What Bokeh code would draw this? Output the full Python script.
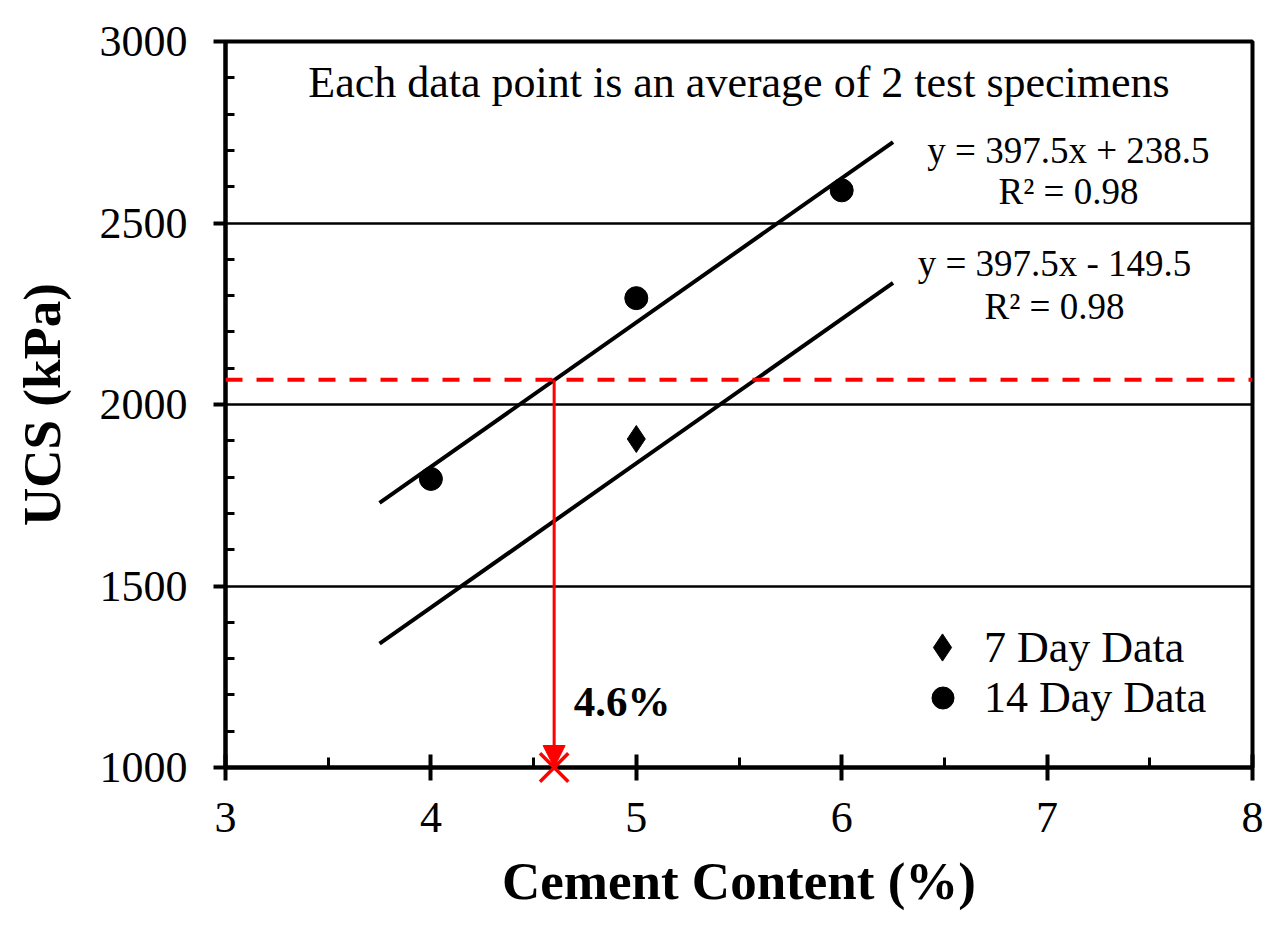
from bokeh.plotting import figure
from bokeh.models import (Span, Arrow, NormalHead, Label, Legend, LegendItem,
                          FixedTicker, Range1d)
from bokeh.embed import file_html
from bokeh.resources import INLINE

# ---------------- data ----------------
cement_14 = [4, 5, 6]
ucs_14 = [1795, 2293, 2590]
cement_7 = [5]
ucs_7 = [1905]
fit_slopes = [397.5, 397.5]
fit_intercepts = [238.5, -149.5]
fit_r2 = [0.98, 0.98]
fit_x_range = [3.75, 6.25]
target_ucs = 2068
design_cement = 4.6
x_ticks = [3, 4, 5, 6, 7, 8]
y_ticks = [1000, 1500, 2000, 2500, 3000]
note_text = "Each data point is an average of 2 test specimens"

FONT = "Liberation Serif"

p = figure(frame_width=1027, frame_height=726,
           min_border_left=225, min_border_right=12,
           min_border_top=41, min_border_bottom=150,
           x_range=Range1d(x_ticks[0], x_ticks[-1]),
           y_range=Range1d(y_ticks[0], y_ticks[-1]),
           output_backend="svg", toolbar_location=None,
           background_fill_color="white", border_fill_color="white")

p.outline_line_color = "black"
p.outline_line_width = 4

# grid
p.xgrid.visible = False
p.ygrid.ticker = FixedTicker(ticks=y_ticks[1:-1])
p.ygrid.grid_line_color = "black"
p.ygrid.grid_line_width = 2.5

# axes
x_minor = [t + 0.5 for t in x_ticks[:-1]]
y_minor = [v for v in range(y_ticks[0], y_ticks[-1] + 1, 100) if v % 500]
p.xaxis.ticker = FixedTicker(ticks=x_ticks, minor_ticks=x_minor)
p.yaxis.ticker = FixedTicker(ticks=y_ticks, minor_ticks=y_minor)

for ax in (p.xaxis[0], p.yaxis[0]):
    ax.axis_line_color = "black"
    ax.axis_line_width = 4
    ax.major_tick_line_color = "black"
    ax.major_tick_line_width = 4
    ax.minor_tick_line_color = "black"
    ax.minor_tick_line_width = 3
    ax.major_label_text_font = FONT
    ax.major_label_text_font_size = "44px"
    ax.major_label_text_color = "black"
    ax.axis_label_text_font = FONT
    ax.axis_label_text_font_size = "53px"
    ax.axis_label_text_font_style = "bold"
    ax.axis_label_text_color = "black"

p.xaxis.axis_label = "Cement Content (%)"
p.xaxis.major_tick_in = 13
p.xaxis.major_tick_out = 13
p.xaxis.minor_tick_in = 10
p.xaxis.minor_tick_out = 0
p.xaxis.major_label_standoff = 22
p.xaxis.axis_label_standoff = 17

p.yaxis.axis_label = "UCS (kPa)"
p.yaxis.major_tick_in = 0
p.yaxis.major_tick_out = 12
p.yaxis.minor_tick_in = 9
p.yaxis.minor_tick_out = 0
p.yaxis.major_label_standoff = 26
p.yaxis.axis_label_standoff = 26

# trend lines
for m, b in zip(fit_slopes, fit_intercepts):
    p.line(fit_x_range, [m * x + b for x in fit_x_range],
           line_color="black", line_width=4)

# data points
r14 = p.scatter(cement_14, ucs_14, marker="circle", size=23,
                fill_color="black", line_color="black")
r7 = p.scatter(cement_7, ucs_7, marker="diamond", size=27,
               fill_color="black", line_color="black")

# target line and arrow
p.add_layout(Span(location=target_ucs, dimension="width", line_color="red",
                  line_width=4, line_dash="17 14"))
p.add_layout(Arrow(end=NormalHead(size=22, fill_color="red", line_color="red"),
                   x_start=design_cement, y_start=target_ucs,
                   x_end=design_cement, y_end=y_ticks[0],
                   line_color="red", line_width=3))
p.scatter([design_cement], [y_ticks[0]], marker="x", size=40,
          line_color="red", line_width=3.5, level="overlay")

# texts
p.add_layout(Label(x=4.695, y=1182, text=f"{design_cement}%",
                   text_font=FONT, text_font_size="43px",
                   text_font_style="bold", text_color="black",
                   text_baseline="alphabetic", text_align="left"))
p.add_layout(Label(x=5.5, y=2887, text=note_text,
                   text_font=FONT, text_font_size="44px", text_color="black",
                   text_baseline="alphabetic", text_align="center"))

eq_pos = [(7.104, 2700, 2587), (7.036, 2388, 2270)]
for (ex, ey1, ey2), m, b, r2 in zip(eq_pos, fit_slopes, fit_intercepts, fit_r2):
    sign = "+" if b >= 0 else "-"
    p.add_layout(Label(x=ex, y=ey1, text=f"y = {m}x {sign} {abs(b)}",
                       text_font=FONT, text_font_size="37px", text_color="black",
                       text_baseline="alphabetic", text_align="center"))
    p.add_layout(Label(x=ex, y=ey2, text=f"R\u00b2 = {r2}",
                       text_font=FONT, text_font_size="37px", text_color="black",
                       text_baseline="alphabetic", text_align="center"))

# legend (one legend per item for exact row placement and glyph size)
for label, rend, loc, gsize, stand in [("7 Day Data", r7, (683, 86), 68, 8),
                                       ("14 Day Data", r14, (690, 42), 55, 14)]:
    lg = Legend(items=[LegendItem(label=label, renderers=[rend])],
                location=loc, glyph_width=gsize, glyph_height=gsize,
                label_standoff=stand, padding=0, margin=0, spacing=0,
                label_text_font=FONT, label_text_font_size="44px",
                label_text_color="black",
                border_line_color=None, background_fill_alpha=0)
    p.add_layout(lg)

open("out.html", "w").write(file_html(p, INLINE))
